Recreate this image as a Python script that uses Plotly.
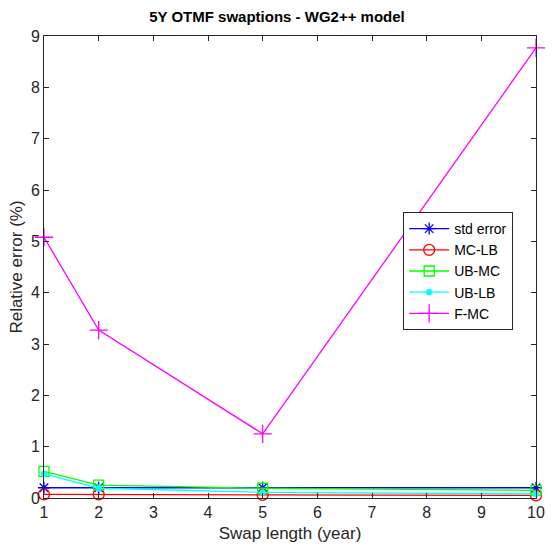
import plotly.graph_objects as go

swap_len = [1, 2, 5, 10]
std_error = [0.20, 0.20, 0.20, 0.20]
mc_lb = [0.07, 0.07, 0.06, 0.05]
ub_mc = [0.52, 0.25, 0.19, 0.15]
ub_lb = [0.47, 0.19, 0.11, 0.08]
f_mc = [5.08, 3.27, 1.25, 8.77]

series = [
    ("std error", std_error, "#0000ff", "asterisk-open", 10),
    ("MC-LB", mc_lb, "#ff0000", "circle-open", 11),
    ("UB-MC", ub_mc, "#00ff00", "square-open", 10),
    ("UB-LB", ub_lb, "#00ffff", "circle", 5),
    ("F-MC", f_mc, "#ff00ff", "cross-thin-open", 13),
]

FONT = "Liberation Sans, Arial"

fig = go.Figure()
for name, vals, col, sym, sz in series:
    fig.add_trace(go.Scatter(
        x=swap_len, y=vals, name=name, mode="lines+markers",
        line=dict(color=col, width=1.3),
        marker=dict(symbol=sym, size=sz, color=col, line=dict(color=col, width=1.3)),
        cliponaxis=False,
    ))

axis_common = dict(
    showgrid=False, zeroline=False, showline=True, linecolor="#262626", linewidth=1,
    mirror="ticks", ticks="inside", ticklen=5, tickcolor="#262626",
    tickfont=dict(family=FONT, size=16, color="#262626"),
)

fig.update_layout(
    width=554, height=557,
    margin=dict(l=44, r=9, t=36, b=59),
    paper_bgcolor="white", plot_bgcolor="white",
    title=dict(text="<b>5Y OTMF swaptions - WG2++ model</b>", x=0.5, xanchor="center",
               y=1 - 17 / 557, yanchor="middle",
               font=dict(family=FONT, size=15, color="#000000")),
    xaxis=dict(range=[1, 10], tickvals=list(range(1, 11)),
               title=dict(text="Swap length (year)", standoff=6,
                          font=dict(family=FONT, size=17, color="#262626")),
               **axis_common),
    yaxis=dict(range=[0, 9], tickvals=list(range(0, 10)),
               title=dict(text="Relative error (%)", standoff=3,
                          font=dict(family=FONT, size=17, color="#262626")),
               **axis_common),
    legend=dict(x=0.73, y=0.619, xanchor="left", yanchor="top",
                bgcolor="white", bordercolor="#262626", borderwidth=1,
                font=dict(family=FONT, size=14, color="#000000"),
                tracegroupgap=0, itemwidth=40),
)

fig.write_html("out.html")
